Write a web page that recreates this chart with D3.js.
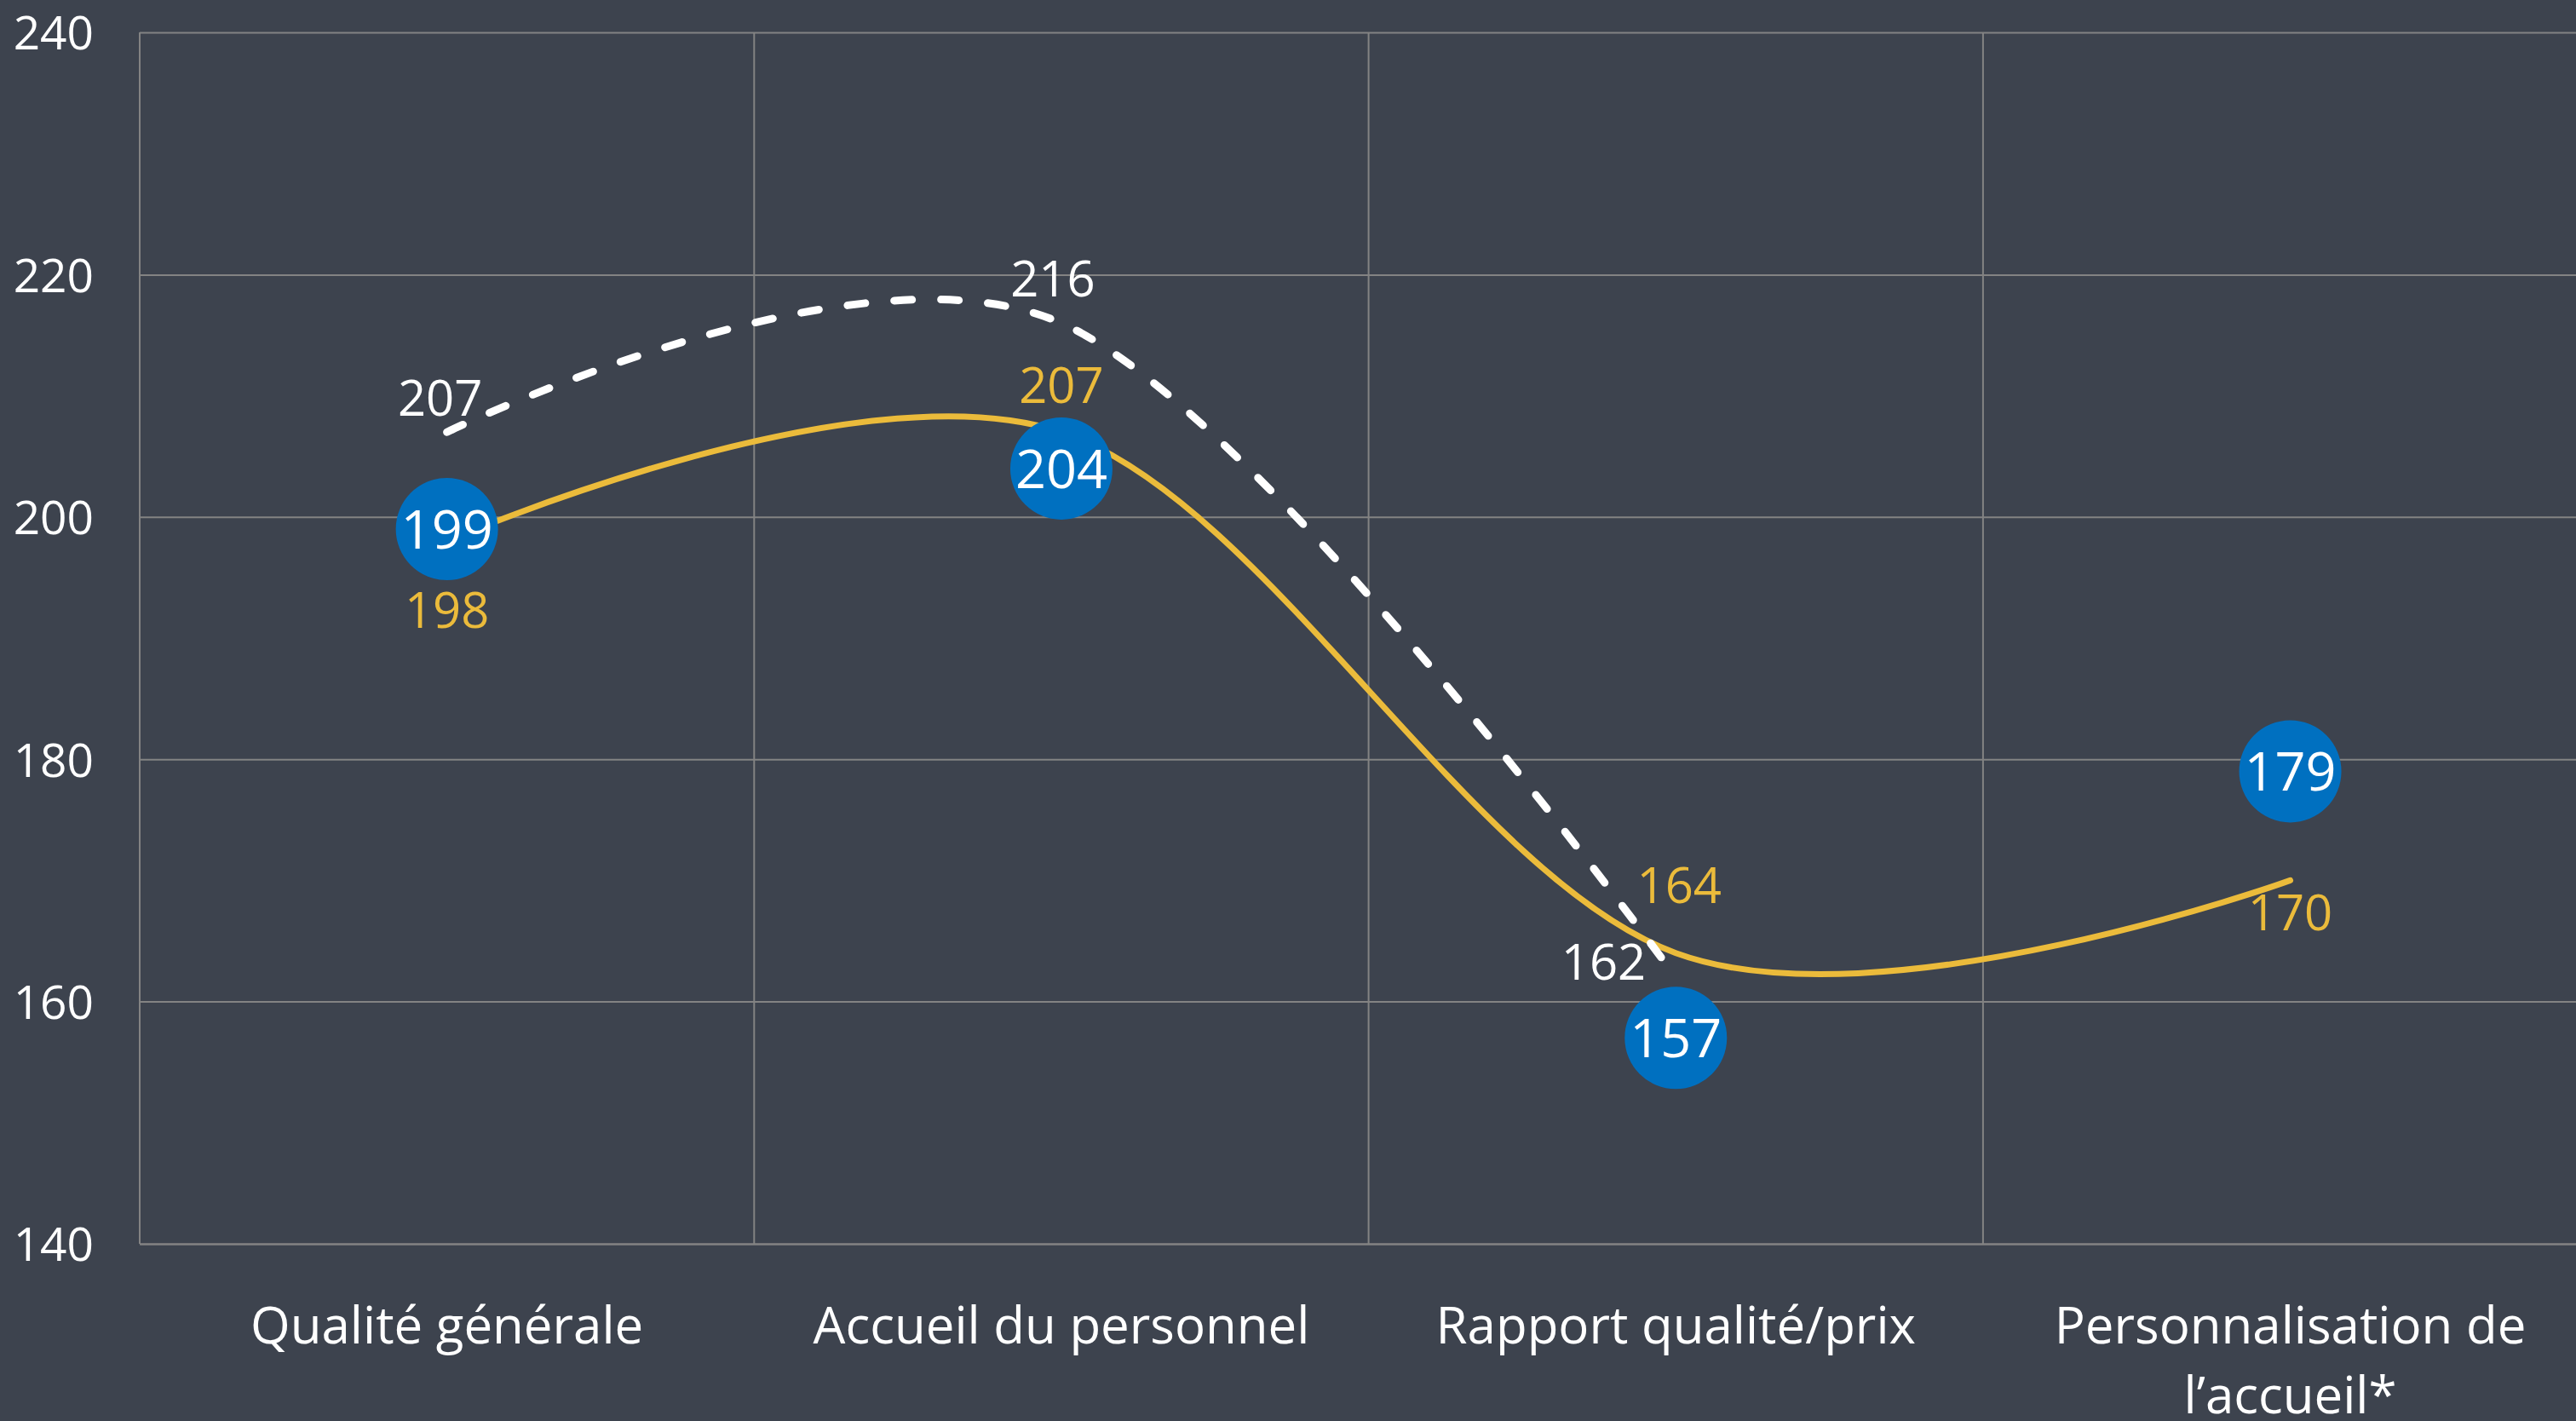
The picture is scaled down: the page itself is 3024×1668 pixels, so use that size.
<!DOCTYPE html>
<html>
<head>
<meta charset="utf-8">
<script src="https://cdn.jsdelivr.net/npm/d3@7"></script>
<style>
html,body{margin:0;padding:0;background:#3d434e;overflow:hidden}
svg{display:block}
text{font-family:"Open Sans",sans-serif}
</style>
</head>
<body>
<svg id="chart"></svg>
<script>
// data
const categories = ["Qualité générale","Accueil du personnel","Rapport qualité/prix","Personnalisation de\nl’accueil*"]
const yTicks = [140,160,180,200,220,240]
const serieJaune = [198,207,164,170]
const serieBlanche = [207,216,162]
const pastilles = [199,204,157,179]

const W = 3024, H = 1668
const m = {top:38, left:164}
const plotW = 4*721.3, plotH = 1422

const svg = d3.select("#chart").attr("width",W).attr("height",H)
svg.append("rect").attr("width",W).attr("height",H).attr("fill","#3d434e")

const x = d3.scaleBand().domain(categories).range([0,plotW]).padding(0)
const y = d3.scaleLinear().domain([140,240]).range([plotH,0])
const cx = d => x(d) + x.bandwidth()/2

const g = svg.append("g").attr("transform",`translate(${m.left},${m.top})`)

//horizontal grid + y labels
const yAxis = g.append("g").attr("class","y")
  .call(d3.axisLeft(y).tickValues(yTicks).tickSize(-plotW).tickPadding(54))
yAxis.select(".domain").remove()
yAxis.selectAll("line").attr("stroke","#838383").attr("stroke-width",2)
yAxis.selectAll("text").attr("fill","#fff").attr("font-size",55).attr("dy","0.36em")

//vertical grid at band edges
g.append("g").selectAll("line").data(categories).enter().append("line")
  .attr("x1",d=>x(d)).attr("x2",d=>x(d))
  .attr("y1",0).attr("y2",plotH)
  .attr("stroke","#838383").attr("stroke-width",2)

//category labels
const xAxis = g.append("g").attr("transform",`translate(0,${plotH})`)
  .call(d3.axisBottom(x).tickSize(0).tickFormat(""))
xAxis.select(".domain").attr("stroke","#838383").attr("stroke-width",2)
xAxis.selectAll(".tick").append("text")
  .attr("fill","#fff").attr("font-size",60).attr("text-anchor","middle")
  .each(function(d){
    let t = d3.select(this)
    d.split("\n").forEach((s,i)=>{
      t.append("tspan").attr("x",0).attr("y",117 + i*82).text(s)
    })
  })

//lines
const pts = (vals) => vals.map((v,i)=>[cx(categories[i]), y(v)])
const line = d3.line().curve(d3.curveCardinal.tension(0))

g.append("path").attr("d",line(pts(serieJaune)))
  .attr("fill","none").attr("stroke","#ebbb3b").attr("stroke-width",7)
  .attr("stroke-linecap","round")

g.append("path").attr("d",line(pts(serieBlanche)))
  .attr("fill","none").attr("stroke","#fff").attr("stroke-width",9)
  .attr("stroke-linecap","round").attr("stroke-dasharray","21 34")

//blue dots
const dots = g.append("g").selectAll("g").data(pastilles).enter().append("g")
  .attr("transform",(d,i)=>`translate(${cx(categories[i])},${y(d)})`)
dots.append("circle").attr("r",60).attr("fill","#0070c0")
dots.append("text").text(d=>d)
  .attr("fill","#fff").attr("font-size",63).attr("text-anchor","middle").attr("dy","0.36em")

//data labels (offsets relative to point)
const posJaune = [[0,102],[0,-34],[4,-59],[0,59]]
const posBlanche = [[-8,-19,"middle"],[-10,-31,"middle"],[-35,3,"end"]]

g.append("g").selectAll("text").data(serieJaune).enter().append("text")
  .attr("x",(d,i)=>cx(categories[i]) + posJaune[i][0])
  .attr("y",(d,i)=>y(d) + posJaune[i][1])
  .attr("text-anchor","middle").attr("font-size",58).attr("fill","#ebbb3b")
  .text(d=>d)

g.append("g").selectAll("text").data(serieBlanche).enter().append("text")
  .attr("x",(d,i)=>cx(categories[i]) + posBlanche[i][0])
  .attr("y",(d,i)=>y(d) + posBlanche[i][1])
  .attr("text-anchor",(d,i)=>posBlanche[i][2]).attr("font-size",58).attr("fill","#fff")
  .text(d=>d)
</script>
</body>
</html>
